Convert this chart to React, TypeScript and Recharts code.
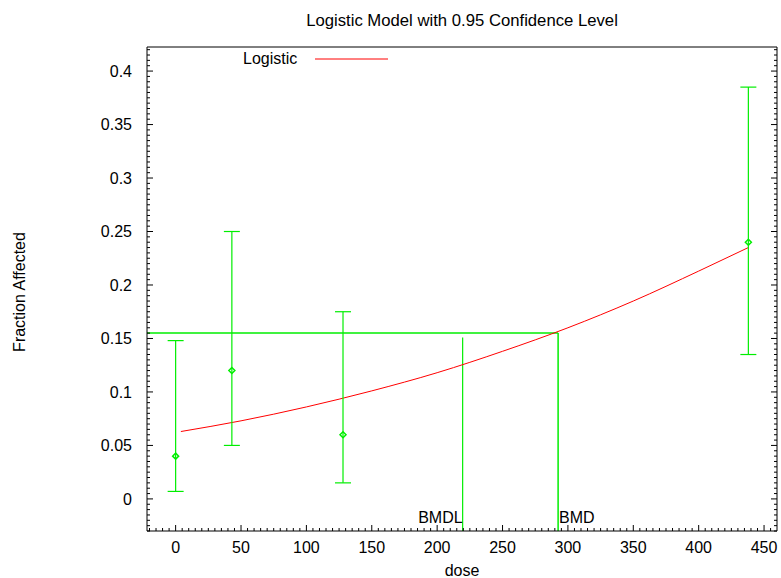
import React from 'react';
import {
  ComposedChart,
  XAxis,
  YAxis,
  Line,
  Scatter,
  ErrorBar,
  ReferenceLine,
  Legend,
} from 'recharts';

// observed doses and fractions with 0.95 limits
const doses = [0, 43, 128, 438];
const fractions = [0.04, 0.12, 0.06, 0.24];
const lowerLimits = [0.007, 0.05, 0.015, 0.135];
const upperLimits = [0.148, 0.25, 0.175, 0.385];

// fitted logistic curve
const curveDoses = [4, 50, 100, 150, 200, 250, 300, 350, 400, 438];
const curveFractions = [0.063, 0.073, 0.086, 0.101, 0.118, 0.138, 0.16, 0.185, 0.213, 0.235];

const BMR = 0.155;
const BMD = 292.5;
const BMDL = 219.5;
const BMDL_TOP = 0.151;

const X_DOMAIN: [number, number] = [-21.9, 459.9];
const Y_DOMAIN: [number, number] = [-0.03, 0.4225];
const xTicks = [0, 50, 100, 150, 200, 250, 300, 350, 400, 450];
const yTicks = [0, 0.05, 0.1, 0.15, 0.2, 0.25, 0.3, 0.35, 0.4];

const FONT = '"Liberation Sans", Arial, sans-serif';
const GREEN = '#00ee00';
const RED = '#ff0000';

// minor ticks every tenth of a major step
const minorTicks = (majors: number[], lo: number, hi: number) => {
  const step = (majors[1] - majors[0]) / 10;
  const out: number[] = [];
  for (let i = Math.ceil(lo / step); i * step <= hi; i++) out.push(+(i * step).toFixed(6));
  return out;
};
const xAllTicks = minorTicks(xTicks, X_DOMAIN[0], X_DOMAIN[1]);
const yAllTicks = minorTicks(yTicks, Y_DOMAIN[0], Y_DOMAIN[1]);
const isMajor = (v: number, majors: number[]) => majors.some((m) => Math.abs(m - v) < 1e-9);

const points = doses.map((d, i) => ({
  dose: d,
  frac: fractions[i],
  err: [fractions[i] - lowerLimits[i], upperLimits[i] - fractions[i]],
}));
const curve = curveDoses.map((d, i) => ({ dose: d, p: curveFractions[i] }));

const BottomTick = ({ x, y, payload }: any) => {
  const major = isMajor(payload.value, xTicks);
  return (
    <g>
      <line x1={x} y1={y} x2={x} y2={y - (major ? 6 : 3)} stroke="#000" />
      {major && (
        <text x={x} y={y + 22} textAnchor="middle" fontSize={16} fontFamily={FONT} fill="#000">
          {payload.value}
        </text>
      )}
    </g>
  );
};
const TopTick = ({ x, y, payload }: any) => {
  const major = isMajor(payload.value, xTicks);
  return <line x1={x} y1={y} x2={x} y2={y + (major ? 6 : 3)} stroke="#000" />;
};
const LeftTick = ({ x, y, payload }: any) => {
  const major = isMajor(payload.value, yTicks);
  return (
    <g>
      <line x1={x} y1={y} x2={x + (major ? 6 : 3)} y2={y} stroke="#000" />
      {major && (
        <text x={x - 15} y={y} dy="0.36em" textAnchor="end" fontSize={16} fontFamily={FONT} fill="#000">
          {payload.value}
        </text>
      )}
    </g>
  );
};
const RightTick = ({ x, y, payload }: any) => {
  const major = isMajor(payload.value, yTicks);
  return <line x1={x} y1={y} x2={x - (major ? 6 : 3)} y2={y} stroke="#000" />;
};

const refLabel = (text: string, anchor: 'start' | 'end') => (props: any) => {
  const vb = props.viewBox || {};
  return (
    <text
      x={vb.x + (anchor === 'start' ? 1 : 0)}
      y={vb.y + vb.height - 8}
      textAnchor={anchor}
      fontSize={16}
      fontFamily={FONT}
      fill="#000"
    >
      {text}
    </text>
  );
};

const renderLegend = () => (
  <div style={{ display: 'flex', alignItems: 'center', fontFamily: FONT, fontSize: 16, lineHeight: '16px' }}>
    <span style={{ width: 72 }}>Logistic</span>
    <svg width={73} height={4}>
      <line x1={0} y1={2} x2={73} y2={2} stroke={RED} strokeWidth={1} />
    </svg>
  </div>
);

const Diamond = ({ cx, cy }: any) => (
  <path
    d={`M${cx},${cy - 3}L${cx + 3},${cy}L${cx},${cy + 3}L${cx - 3},${cy}Z`}
    fill="none"
    stroke={GREEN}
    strokeWidth={1.5}
  />
);

export default function App() {
  return (
    <div style={{ position: 'absolute', left: 0, top: 0, width: 781, height: 578, background: '#fff', fontFamily: FONT }}>
      <div style={{ position: 'absolute', left: 462, top: 13, transform: 'translateX(-50%)', fontSize: 16.7, lineHeight: '16px', whiteSpace: 'nowrap' }}>
        Logistic Model with 0.95 Confidence Level
      </div>
      <div style={{ position: 'absolute', left: 20, top: 292, transform: 'translate(-50%, -50%) rotate(-90deg)', fontSize: 16, lineHeight: '16px', whiteSpace: 'nowrap' }}>
        Fraction Affected
      </div>
      <div style={{ position: 'absolute', left: 462, top: 563, transform: 'translateX(-50%)', fontSize: 16, lineHeight: '16px' }}>
        dose
      </div>
      <ComposedChart width={781} height={578} margin={{ top: 46, right: 3, bottom: 17, left: 87 }}>
        <XAxis
          dataKey="dose"
          type="number"
          domain={X_DOMAIN}
          allowDataOverflow
          ticks={xAllTicks}
          interval={0}
          tickSize={0}
          tickMargin={0}
          tickLine={false}
          tick={<BottomTick />}
          axisLine={{ stroke: '#000' }}
          height={30}
        />
        <XAxis
          xAxisId="top"
          orientation="top"
          type="number"
          domain={X_DOMAIN}
          allowDataOverflow
          ticks={xAllTicks}
          interval={0}
          tickSize={0}
          tickMargin={0}
          tickLine={false}
          tick={<TopTick />}
          axisLine={{ stroke: '#000' }}
          height={1}
        />
        <YAxis
          type="number"
          domain={Y_DOMAIN}
          allowDataOverflow
          ticks={yAllTicks}
          interval={0}
          tickSize={0}
          tickMargin={0}
          tickLine={false}
          tick={<LeftTick />}
          axisLine={{ stroke: '#000' }}
          width={60}
        />
        <YAxis
          yAxisId="right"
          orientation="right"
          type="number"
          domain={Y_DOMAIN}
          allowDataOverflow
          ticks={yAllTicks}
          interval={0}
          tickSize={0}
          tickMargin={0}
          tickLine={false}
          tick={<RightTick />}
          axisLine={{ stroke: '#000' }}
          width={1}
        />
        <ReferenceLine
          segment={[{ x: X_DOMAIN[0], y: BMR }, { x: BMD, y: BMR }]}
          stroke={GREEN}
          strokeWidth={1.5}
        />
        <ReferenceLine
          segment={[{ x: BMDL, y: Y_DOMAIN[0] }, { x: BMDL, y: BMDL_TOP }]}
          stroke={GREEN}
          strokeWidth={1.2}
          label={refLabel('BMDL', 'end')}
        />
        <ReferenceLine
          segment={[{ x: BMD, y: Y_DOMAIN[0] }, { x: BMD, y: BMR }]}
          stroke={GREEN}
          strokeWidth={1.5}
          label={refLabel('BMD', 'start')}
        />
        <Line
          data={curve}
          dataKey="p"
          name="Logistic"
          type="monotone"
          stroke={RED}
          strokeWidth={1}
          dot={false}
          isAnimationActive={false}
        />
        <Scatter data={points} dataKey="frac" shape={<Diamond />} legendType="none" isAnimationActive={false}>
          <ErrorBar dataKey="err" direction="y" width={8} stroke={GREEN} strokeWidth={1.2} isAnimationActive={false} />
        </Scatter>
        <Legend
          layout="horizontal"
          verticalAlign="middle"
          align="center"
          content={renderLegend}
          wrapperStyle={{ top: 51, left: 243, width: 160, height: 16 }}
        />
      </ComposedChart>
    </div>
  );
}
